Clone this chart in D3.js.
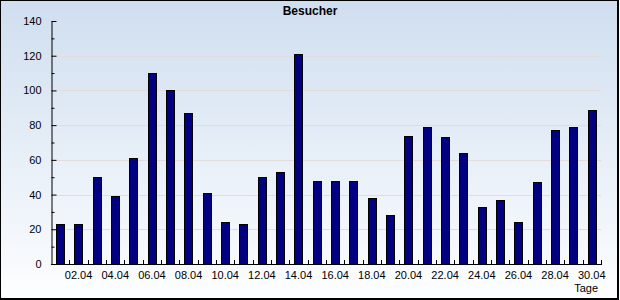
<!DOCTYPE html>
<html>
<head>
<meta charset="utf-8">
<script src="https://cdn.jsdelivr.net/npm/d3@7"></script>
<style>
  body { margin: 0; background: #fff; }
  svg { display: block; }
  .tick text { font-family: 'Liberation Sans', Arial, sans-serif; font-size: 11px; fill: #000; }
</style>
</head>
<body>
<svg id="chart" width="620" height="300"></svg>
<script>
// days of april
const days = ['01.04', '02.04', '03.04', '04.04', '05.04', '06.04', '07.04', '08.04', '09.04', '10.04',
  '11.04', '12.04', '13.04', '14.04', '15.04', '16.04', '17.04', '18.04', '19.04', '20.04',
  '21.04', '22.04', '23.04', '24.04', '25.04', '26.04', '27.04', '28.04', '29.04', '30.04']
const visitors = [23, 23, 50, 39, 61, 110, 100, 87, 41, 24,
  23, 50, 53, 121, 48, 48, 48, 38, 28, 74,
  79, 73, 64, 33, 37, 24, 47, 77, 79, 89]
const yTicks = [0, 20, 40, 60, 80, 100, 120, 140]
const yMinor = [10, 30, 50, 70, 90, 110, 130]
const xLabels = ['02.04', '04.04', '06.04', '08.04', '10.04', '12.04', '14.04', '16.04',
  '18.04', '20.04', '22.04', '24.04', '26.04', '28.04', '30.04']

const svg = d3.select('#chart')
const plotLeft = 51
const plotRight = 601
const plotTop = 21
const plotBottom = 264

// background gradient
const grad = svg.append('defs').append('linearGradient')
  .attr('id', 'bg').attr('x1', 0).attr('y1', 0).attr('x2', 0).attr('y2', 1)
grad.append('stop').attr('offset', '0%').attr('stop-color', '#cfdeef')
grad.append('stop').attr('offset', '100%').attr('stop-color', '#fdfeff')

svg.append('rect')
  .attr('x', 0).attr('y', 0).attr('width', 619).attr('height', 299)
  .style('fill', 'url(#bg)')

const x = d3.scaleBand().domain(days).range([plotLeft, plotRight]).paddingInner(0.55).paddingOuter(0.28)
const y = d3.scaleLinear().domain([0, 140]).range([plotBottom, plotTop])

// grid
svg.append('g')
  .selectAll('line')
  .data(yTicks.filter(d => d > 0))
  .join('line')
  .attr('x1', plotLeft).attr('x2', plotRight)
  .attr('y1', d => Math.round(y(d)) + 0.5).attr('y2', d => Math.round(y(d)) + 0.5)
  .style('stroke', '#e2dcdc')
  .style('stroke-width', 1)

// bars
svg.append('g')
  .selectAll('rect')
  .data(visitors)
  .join('rect')
  .attr('x', (d, i) => Math.round(x(days[i])) + 0.5)
  .attr('y', d => Math.round(y(d)) + 0.5)
  .attr('width', Math.round(x.bandwidth()))
  .attr('height', d => Math.round(y(0)) - Math.round(y(d)))
  .style('fill', '#000080')
  .style('stroke', '#000')
  .style('stroke-width', 1)

// y axis
svg.append('g')
  .attr('transform', `translate(${plotLeft + 0.5},0)`)
  .call(d3.axisLeft(y).tickValues(yTicks).tickSize(-5).tickPadding(10).tickSizeOuter(0))
svg.append('g')
  .attr('transform', `translate(${plotLeft + 0.5},0)`)
  .call(d3.axisLeft(y).tickValues(yMinor).tickSize(-3).tickFormat('').tickSizeOuter(0))
  .select('.domain').remove()

// x axis
const step = x.step()
const boundaries = d3.range(1, days.length + 1).map(i => plotLeft + i * (plotRight - plotLeft) / days.length)
svg.append('g')
  .selectAll('line')
  .data(boundaries)
  .join('line')
  .attr('x1', d => Math.round(d) + 0.5).attr('x2', d => Math.round(d) + 0.5)
  .attr('y1', plotBottom).attr('y2', plotBottom - 4)
  .style('stroke', '#000')

svg.append('g')
  .attr('transform', `translate(0,${plotBottom + 0.5})`)
  .call(d3.axisBottom(x).tickValues(xLabels).tickSize(0).tickPadding(7).tickSizeOuter(0))
  .call(g => g.select('.domain').attr('d', `M${plotLeft},0H${plotRight + 1}`))

svg.selectAll('.domain').style('stroke', '#000').style('stroke-width', 1)

// titles
svg.append('text')
  .attr('x', 310).attr('y', 15)
  .attr('text-anchor', 'middle')
  .style('font-family', "'Liberation Sans', Arial, sans-serif")
  .style('font-size', '12px')
  .style('font-weight', 'bold')
  .text('Besucher')

svg.append('text')
  .attr('x', 598).attr('y', 292)
  .attr('text-anchor', 'end')
  .style('font-family', "'Liberation Sans', Arial, sans-serif")
  .style('font-size', '11px')
  .text('Tage')

// frame
svg.append('rect')
  .attr('x', 0.5).attr('y', 0.5).attr('width', 618).attr('height', 298)
  .style('fill', 'none').style('stroke', '#000').style('stroke-width', 1)
svg.append('path')
  .attr('d', 'M618,0V299H0')
  .style('fill', 'none').style('stroke', '#000').style('stroke-width', 2)
</script>
</body>
</html>
